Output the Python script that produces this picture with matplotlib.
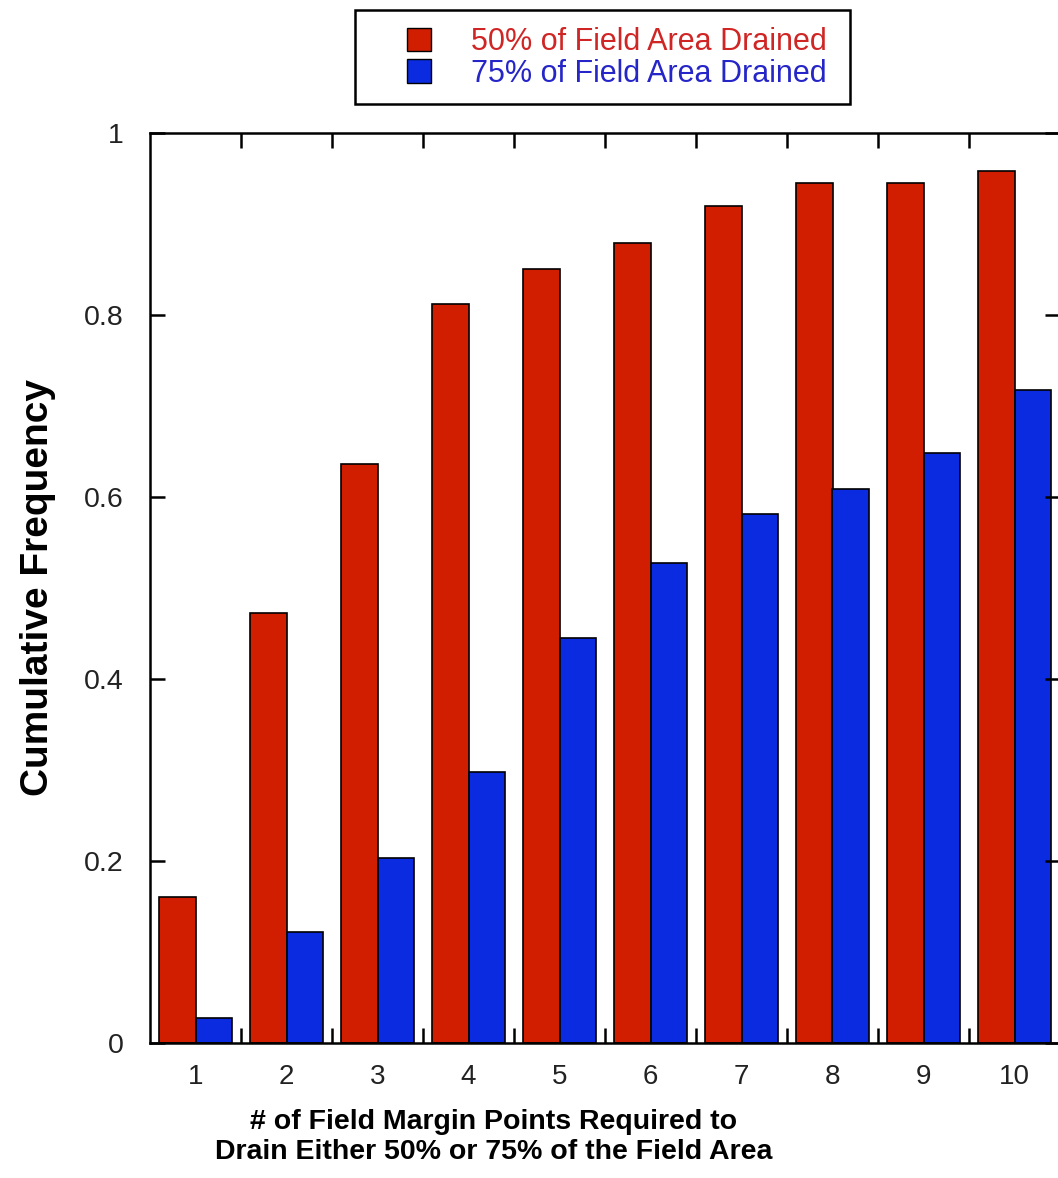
import matplotlib
matplotlib.use("Agg")
import matplotlib.pyplot as plt
import numpy as np
from matplotlib.patches import Patch, Rectangle

# data
points = [1, 2, 3, 4, 5, 6, 7, 8, 9, 10]
drained_50 = [0.160, 0.473, 0.636, 0.812, 0.851, 0.879, 0.920, 0.945, 0.945, 0.958]
drained_75 = [0.027, 0.122, 0.203, 0.298, 0.445, 0.527, 0.581, 0.609, 0.648, 0.718]
series_labels = ["50% of Field Area Drained", "75% of Field Area Drained"]

red = "#D21E00"
blue = "#0A2BDF"

plt.rcParams["font.family"] = ["Liberation Sans", "DejaVu Sans"]

fig = plt.figure(figsize=(10.58, 11.78), dpi=100)
W, H = 1058, 1178
ax = fig.add_axes([150 / W, 1 - 1043 / H, 910 / W, 910 / H])

x = np.array(points)
w = 0.4
ax.bar(x - w / 2, drained_50, width=w, color=red, edgecolor="black", linewidth=1.2)
ax.bar(x + w / 2, drained_75, width=w, color=blue, edgecolor="black", linewidth=1.2)

ax.set_xlim(0.5, 10.5)
ax.set_ylim(0, 1)
ax.set_xticks(points)
ax.set_xticklabels([str(p) for p in points], fontsize=20, color="#222222")
ax.set_xticks(np.arange(1.5, 10, 1), minor=True)
ax.set_yticks([0, 0.2, 0.4, 0.6, 0.8, 1])
ax.set_yticklabels(["0", "0.2", "0.4", "0.6", "0.8", "1"], fontsize=20.5, color="#222222")

ax.tick_params(axis="x", which="major", length=0, pad=15)
ax.tick_params(axis="x", which="minor", direction="in", length=11, width=1.8, top=True)
ax.tick_params(axis="y", which="major", direction="in", length=11, width=1.8, right=True, pad=19)
for s in ax.spines.values():
    s.set_linewidth(1.8)

ax.set_ylabel("Cumulative Frequency", fontsize=28, fontweight="bold", labelpad=20)
ax.set_xlabel("# of Field Margin Points Required to\nDrain Either 50% or 75% of the Field Area",
              fontsize=20.5, fontweight="bold", linespacing=1.2)
ax.xaxis.set_label_coords(0.378, -0.073)
ax.xaxis.label.set_va("top")

# legend
handles = [Patch(facecolor=red, edgecolor="black"), Patch(facecolor=blue, edgecolor="black")]
leg = fig.legend(handles, series_labels, loc="upper left", bbox_to_anchor=(407 / W, 1 - 27 / H),
                 frameon=False, fontsize=22, borderpad=0, borderaxespad=0,
                 handlelength=0.8, handleheight=0.8, handletextpad=1.3, labelspacing=0.05)
leg.get_texts()[0].set_color("#D02525")
leg.get_texts()[1].set_color("#2525C8")
fig.add_artist(Rectangle((355 / W, 1 - 104 / H), 495 / W, 94 / H, transform=fig.transFigure,
                         facecolor="none", edgecolor="black", linewidth=1.8))

fig.savefig("out.png", dpi=100)
